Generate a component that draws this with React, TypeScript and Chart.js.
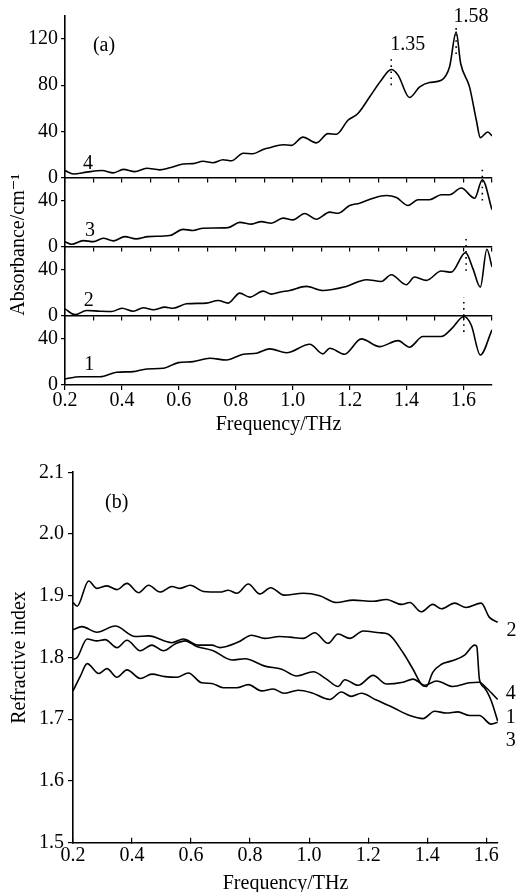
import React, { useEffect, useRef } from "react";
import { Chart, registerables } from "chart.js";

Chart.register(...registerables);

const SERIF = "'Liberation Serif', 'Times New Roman', 'DejaVu Serif', serif";

// ---------- Panel (a): absorbance, four stacked sub-panels ----------
const freqA4 = [0.2, 0.23, 0.276, 0.33, 0.37, 0.405, 0.445, 0.487, 0.533, 0.568, 0.615, 0.65, 0.685, 0.72, 0.755, 0.785, 0.826, 0.86, 0.896, 0.919, 0.966, 0.995, 1.036, 1.083, 1.124, 1.153, 1.194, 1.229, 1.27, 1.311, 1.346, 1.37, 1.41, 1.446, 1.48, 1.522, 1.551, 1.574, 1.59, 1.621, 1.645, 1.659, 1.685, 1.7];
const absA4 = [6, 3, 4.6, 6, 4, 7, 5, 8, 6.6, 8.4, 11.6, 12, 14, 12.8, 15.4, 14.5, 21, 20.6, 24.3, 25.8, 28.4, 27.8, 35, 30, 38, 37.4, 49.6, 55.4, 69.8, 84.3, 93.6, 88.7, 69.3, 78.5, 82.3, 84.3, 96, 126, 98.8, 78.5, 49.6, 34.5, 39.4, 36];

const freqA3 = [0.2, 0.223, 0.264, 0.3, 0.334, 0.37, 0.41, 0.45, 0.492, 0.568, 0.615, 0.65, 0.685, 0.773, 0.814, 0.855, 0.89, 0.925, 0.966, 1.001, 1.042, 1.083, 1.13, 1.159, 1.2, 1.235, 1.282, 1.329, 1.364, 1.405, 1.44, 1.48, 1.522, 1.551, 1.592, 1.639, 1.666, 1.7];
const absA3 = [4.3, 2, 5.2, 4.3, 7.2, 5, 8.7, 6.7, 8.7, 9.6, 15, 14, 16, 16.5, 21, 19.5, 21.7, 20.3, 24.7, 23.2, 28.7, 23.8, 29.9, 29, 35.7, 37.7, 42, 44.3, 42.6, 35.7, 40.6, 40.6, 45, 45, 50.8, 42, 58, 32];

const freqA2 = [0.2, 0.235, 0.276, 0.323, 0.364, 0.4, 0.44, 0.475, 0.51, 0.551, 0.58, 0.627, 0.697, 0.738, 0.773, 0.814, 0.849, 0.896, 0.925, 0.954, 0.989, 1.048, 1.106, 1.188, 1.259, 1.311, 1.346, 1.399, 1.428, 1.469, 1.522, 1.557, 1.607, 1.633, 1.659, 1.682, 1.7];
const absA2 = [6, 1, 4.6, 4, 3.7, 6.6, 4, 7, 5.2, 7.5, 6.6, 10.4, 11, 13.3, 11, 19.7, 16.2, 21.4, 18.8, 20.5, 22, 25.5, 22, 25.5, 31.3, 29.8, 35.6, 27, 33.6, 30.7, 38.8, 37.9, 54.8, 40.9, 24.9, 57.7, 42.3];

const freqA1 = [0.2, 0.253, 0.323, 0.381, 0.44, 0.487, 0.545, 0.598, 0.65, 0.709, 0.767, 0.826, 0.873, 0.919, 0.978, 1.06, 1.106, 1.13, 1.182, 1.241, 1.305, 1.37, 1.41, 1.457, 1.522, 1.56, 1.601, 1.627, 1.659, 1.7];
const absA1 = [5.2, 7.2, 7.2, 11, 11.6, 13.9, 14.5, 19.4, 20.3, 23.2, 21.7, 26.7, 27.6, 31.3, 28, 35.4, 27, 31.9, 26.7, 40, 33.3, 38.5, 32.8, 42, 42, 49.3, 59.4, 52, 26, 47.8];

// dotted peak markers: frequency, value range, sub-panel axis
const markerFreq = [1.346, 1.574, 1.666, 1.666, 1.609, 1.609, 1.601, 1.601];
const markerFrom = [80, 107, 0, 40, 0, 39, 0, 46];
const markerTo = [106, 130, 9, 60, 10, 60, 16, 60];
const markerAxis = ["y4", "y4", "y4", "y3", "y3", "y2", "y2", "y1"];

const labelsA = [
  { text: "(a)", x: 0.337, y: 114, axis: "y4" },
  { text: "4", x: 0.281, y: 12, axis: "y4" },
  { text: "3", x: 0.288, y: 13.5, axis: "y3" },
  { text: "2", x: 0.283, y: 12.8, axis: "y2" },
  { text: "1", x: 0.285, y: 17.3, axis: "y1" },
  { text: "1.35", x: 1.404, y: 114.8, axis: "y4" },
  { text: "1.58", x: 1.626, y: 139.5, axis: "y4" },
];

// ---------- Panel (b): refractive index ----------
const freqB2 = [0.2, 0.214, 0.253, 0.281, 0.315, 0.349, 0.383, 0.422, 0.456, 0.495, 0.535, 0.563, 0.597, 0.642, 0.698, 0.726, 0.755, 0.794, 0.833, 0.87, 0.915, 0.98, 1.036, 1.093, 1.149, 1.217, 1.262, 1.313, 1.341, 1.38, 1.419, 1.448, 1.493, 1.532, 1.583, 1.611, 1.639];
const nB2 = [1.889, 1.883, 1.924, 1.912, 1.916, 1.91, 1.92, 1.905, 1.917, 1.906, 1.915, 1.912, 1.917, 1.907, 1.906, 1.909, 1.904, 1.919, 1.903, 1.913, 1.901, 1.904, 1.9, 1.889, 1.893, 1.891, 1.894, 1.886, 1.889, 1.874, 1.886, 1.879, 1.888, 1.881, 1.888, 1.865, 1.857];

const freqB1 = [0.2, 0.23, 0.281, 0.343, 0.411, 0.456, 0.535, 0.574, 0.625, 0.67, 0.698, 0.76, 0.805, 0.85, 0.9, 0.935, 0.98, 1.019, 1.064, 1.098, 1.138, 1.183, 1.239, 1.267, 1.318, 1.352, 1.386, 1.397, 1.419, 1.448, 1.487, 1.527, 1.561, 1.568, 1.577, 1.594, 1.617, 1.639];
const nB1 = [1.845, 1.85, 1.841, 1.851, 1.834, 1.835, 1.824, 1.83, 1.82, 1.82, 1.816, 1.825, 1.836, 1.831, 1.834, 1.833, 1.831, 1.84, 1.823, 1.838, 1.831, 1.843, 1.84, 1.838, 1.808, 1.781, 1.754, 1.753, 1.776, 1.789, 1.795, 1.804, 1.82, 1.818, 1.765, 1.751, 1.73, 1.697];

const freqB4 = [0.2, 0.214, 0.248, 0.281, 0.309, 0.349, 0.383, 0.428, 0.467, 0.506, 0.546, 0.58, 0.619, 0.675, 0.738, 0.783, 0.85, 0.907, 0.958, 1.014, 1.059, 1.098, 1.121, 1.166, 1.217, 1.262, 1.318, 1.352, 1.392, 1.432, 1.487, 1.544, 1.577, 1.6, 1.639];
const nB4 = [1.797, 1.8, 1.83, 1.827, 1.829, 1.816, 1.828, 1.811, 1.82, 1.811, 1.822, 1.827, 1.818, 1.811, 1.796, 1.798, 1.786, 1.781, 1.77, 1.777, 1.765, 1.753, 1.764, 1.755, 1.771, 1.757, 1.76, 1.765, 1.755, 1.762, 1.753, 1.759, 1.76, 1.751, 1.732];

const freqB3 = [0.2, 0.225, 0.248, 0.287, 0.315, 0.349, 0.383, 0.428, 0.467, 0.512, 0.552, 0.591, 0.636, 0.67, 0.709, 0.755, 0.794, 0.839, 0.878, 0.915, 0.963, 1.008, 1.07, 1.109, 1.143, 1.177, 1.228, 1.284, 1.341, 1.386, 1.425, 1.465, 1.504, 1.544, 1.577, 1.617, 1.639];
const nB3 = [1.746, 1.77, 1.79, 1.774, 1.782, 1.768, 1.78, 1.766, 1.773, 1.769, 1.768, 1.775, 1.759, 1.758, 1.751, 1.751, 1.756, 1.746, 1.749, 1.742, 1.747, 1.743, 1.732, 1.744, 1.737, 1.742, 1.731, 1.719, 1.706, 1.701, 1.713, 1.71, 1.712, 1.706, 1.706, 1.692, 1.695];

const labelsB = [
  { text: "(b)", x: 0.348, y: 2.05 },
  { text: "2", x: 1.686, y: 1.844 },
  { text: "4", x: 1.683, y: 1.742 },
  { text: "1", x: 1.683, y: 1.703 },
  { text: "3", x: 1.683, y: 1.665 },
];

// ---------- helpers ----------
const zip = (xs: number[], ys: number[]) => xs.map((x, i) => ({ x, y: ys[i] }));

const curve = (xs: number[], ys: number[], yAxisID: string) => ({
  data: zip(xs, ys),
  yAxisID,
  borderColor: "#000",
  borderWidth: 1.6,
  pointRadius: 0,
  fill: false,
  cubicInterpolationMode: "monotone" as const,
});

const FS = 20;

const textPlugin = (items: { text: string; x: number; y: number; axis?: string }[], yDefault: string) => ({
  id: "textLabels",
  afterDraw(chart: any) {
    const ctx = chart.ctx;
    ctx.save();
    ctx.fillStyle = "#000";
    ctx.font = `${FS}px ${SERIF}`;
    ctx.textAlign = "center";
    ctx.textBaseline = "middle";
    for (const it of items) {
      const px = chart.scales.x.getPixelForValue(it.x);
      const py = chart.scales[it.axis || yDefault].getPixelForValue(it.y);
      ctx.fillText(it.text, px, py);
    }
    ctx.restore();
  },
});

const tickFont = { family: SERIF, size: FS, lineHeight: 1 };

const yStackAxis = (max: number, title?: string) => ({
  type: "linear" as const,
  position: "left" as const,
  stack: "abs",
  stackWeight: max,
  min: 0,
  max,
  afterFit: (s: any) => {
    s.width = 65;
  },
  border: { color: "#000", width: 1.6 },
  grid: { drawOnChartArea: false, drawTicks: true, tickLength: 4, color: "#000", lineWidth: 1.2 },
  ticks: {
    stepSize: 40,
    includeBounds: false,
    autoSkip: false,
    padding: 3,
    color: "#000",
    font: tickFont,
    callback: (v: any) => String(Math.round(Number(v))),
  },
  title: title
    ? { display: true, text: title, align: "start" as const, color: "#000", font: tickFont, padding: { top: 9, bottom: 0 } }
    : { display: false },
});

const innerXAxis = (yId: string) => ({
  type: "linear" as const,
  position: { [yId]: 0 },
  min: 0.2,
  max: 1.7,
  border: { color: "#000", width: 1.6 },
  grid: { drawOnChartArea: false, drawTicks: true, tickLength: 4, color: "#000", lineWidth: 1.2 },
  ticks: { display: false, stepSize: 0.1, autoSkip: false },
});

function configA(): any {
  const markers = markerFreq.map((f, i) => ({
    data: [
      { x: f, y: markerFrom[i] },
      { x: f, y: markerTo[i] },
    ],
    yAxisID: markerAxis[i],
    borderColor: "#000",
    borderWidth: 1.6,
    borderDash: [1.6, 4.5],
    pointRadius: 0,
    fill: false,
  }));
  return {
    type: "line",
    data: {
      datasets: [
        curve(freqA4, absA4, "y4"),
        curve(freqA3, absA3, "y3"),
        curve(freqA2, absA2, "y2"),
        curve(freqA1, absA1, "y1"),
        ...markers,
      ],
    },
    options: {
      animation: false,
      responsive: false,
      maintainAspectRatio: false,
      layout: { padding: { left: 0, right: 24, top: 16, bottom: 0 } },
      plugins: { legend: { display: false }, tooltip: { enabled: false } },
      scales: {
        x: {
          type: "linear",
          position: "bottom",
          min: 0.2,
          max: 1.7,
          afterFit: (s: any) => {
            s.height = 55;
          },
          border: { color: "#000", width: 1.6 },
          grid: { drawOnChartArea: false, drawTicks: true, tickLength: 5, color: "#000", lineWidth: 1.2 },
          ticks: {
            stepSize: 0.2,
            includeBounds: false,
            autoSkip: false,
            maxRotation: 0,
            padding: 0.5,
            color: "#000",
            font: tickFont,
            callback: (v: any) => Number(v).toFixed(1),
          },
          title: { display: true, text: "Frequency/THz", color: "#000", font: tickFont, padding: { top: 0, bottom: 5.5 } },
        },
        x2: innerXAxis("y2"),
        x3: innerXAxis("y3"),
        x4: innerXAxis("y4"),
        y1: yStackAxis(60),
        y2: yStackAxis(60, "Absorbance/cm\u207B\u00B9"),
        y3: yStackAxis(60),
        y4: yStackAxis(140),
      },
    },
    plugins: [textPlugin(labelsA, "y4")],
  };
}

function configB(): any {
  return {
    type: "line",
    data: {
      datasets: [
        curve(freqB2, nB2, "y"),
        curve(freqB1, nB1, "y"),
        curve(freqB4, nB4, "y"),
        curve(freqB3, nB3, "y"),
      ],
    },
    options: {
      animation: false,
      responsive: false,
      maintainAspectRatio: false,
      layout: { padding: { left: 0, right: 18, top: 32.3, bottom: 0 } },
      plugins: { legend: { display: false }, tooltip: { enabled: false } },
      scales: {
        x: {
          type: "linear",
          position: "bottom",
          min: 0.2,
          max: 1.64,
          afterFit: (s: any) => {
            s.height = 49.3;
          },
          border: { color: "#000", width: 1.6 },
          grid: { drawOnChartArea: false, drawTicks: true, tickLength: -5, color: "#000", lineWidth: 1.2 },
          ticks: {
            stepSize: 0.2,
            includeBounds: false,
            autoSkip: false,
            maxRotation: 0,
            padding: 8.5,
            color: "#000",
            font: tickFont,
            callback: (v: any) => Number(v).toFixed(1),
          },
          title: { display: true, text: "Frequency/THz", color: "#000", font: tickFont, padding: { top: 0, bottom: -1.5 } },
        },
        y: {
          type: "linear",
          position: "left",
          min: 1.5,
          max: 2.1,
          afterFit: (s: any) => {
            s.width = 73;
          },
          border: { color: "#000", width: 1.6 },
          grid: { drawOnChartArea: false, drawTicks: true, tickLength: 5, color: "#000", lineWidth: 1.2 },
          ticks: {
            stepSize: 0.1,
            autoSkip: false,
            padding: 4,
            color: "#000",
            font: tickFont,
            callback: (v: any) => Number(v).toFixed(1),
          },
          title: { display: true, text: "Refractive index", color: "#000", font: tickFont, padding: { top: 10, bottom: 0 } },
        },
      },
    },
    plugins: [textPlugin(labelsB, "y")],
  };
}

export default function App() {
  const refA = useRef<HTMLCanvasElement>(null);
  const refB = useRef<HTMLCanvasElement>(null);

  useEffect(() => {
    const a = new Chart(refA.current as HTMLCanvasElement, configA());
    const b = new Chart(refB.current as HTMLCanvasElement, configB());
    return () => {
      a.destroy();
      b.destroy();
    };
  }, []);

  return (
    <div style={{ position: "absolute", left: 0, top: 0, width: 516, height: 892, background: "#fff", overflow: "hidden" }}>
      <canvas ref={refA} width={516} height={440} style={{ position: "absolute", left: 0, top: 0, width: 516, height: 440 }} />
      <canvas ref={refB} width={516} height={452} style={{ position: "absolute", left: 0, top: 440, width: 516, height: 452 }} />
    </div>
  );
}
